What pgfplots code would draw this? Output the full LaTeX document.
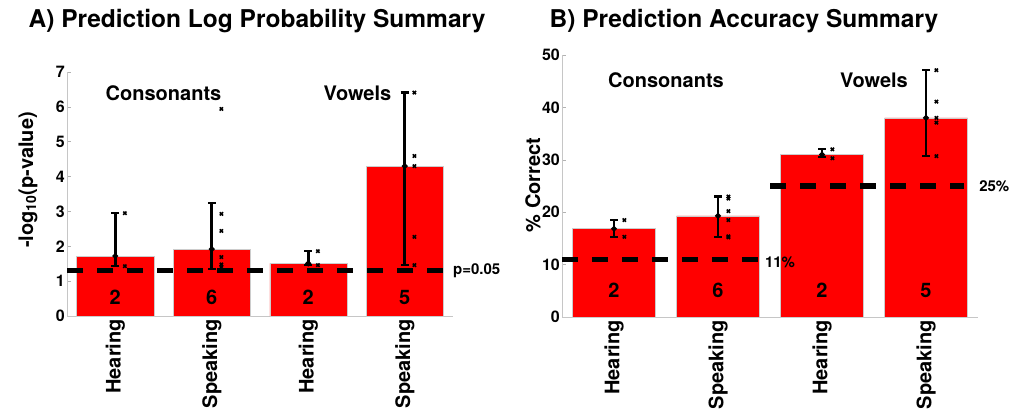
\documentclass[border=0pt]{standalone}
\usepackage{fontspec}
\setmainfont{TeX Gyre Heros}
\usepackage{pgfplots}
\pgfplotsset{compat=1.18}
\usepackage{pgfplotstable}

\pgfplotstableread{
x y ep em
1 1.72 1.23 0.29
2 1.92 1.32 0.57
3 1.51 0.35 0.05
4 4.30 2.11 2.84
}\lpmeans
\pgfplotstableread{
x y
1.1 2.95
1.1 1.43
2.1 5.94
2.1 2.93
2.1 2.44
2.1 1.69
2.1 1.48
2.1 1.40
3.1 1.86
3.1 1.46
4.1 6.41
4.1 4.59
4.1 4.30
4.1 2.27
4.1 1.46
}\lppts
\pgfplotstableread{
x y ep em
1 16.85 1.65 1.55
2 19.3 3.7 4.0
3 31.0 1.0 0.5
4 38.0 9.1 7.3
}\acmeans
\pgfplotstableread{
x y
1.1 18.5
1.1 15.3
2.1 23.0
2.1 22.6
2.1 20.2
2.1 18.5
2.1 15.4
2.1 15.2
3.1 32.0
3.1 30.3
4.1 47.1
4.1 41.1
4.1 38.0
4.1 37.1
4.1 30.7
}\acpts

\pgfplotsset{mystyle/.style={scale only axis, anchor=south west, clip=false,
  xmin=0.5, xmax=4.5, ymin=0,
  axis x line*=bottom, axis y line*=left,
  axis line style={-, gray!45, line width=0.8bp},
  tick align=inside, major tick length=4bp,
  tick style={gray!60, line width=0.6bp},
  xtick={1,2,3,4}, xticklabels={Hearing,Speaking,Hearing,Speaking},
  xticklabel style={rotate=90, anchor=east, font=\fontsize{20bp}{20bp}\selectfont\bfseries, inner sep=3bp},
  yticklabel style={font=\fontsize{16bp}{16bp}\selectfont\bfseries, inner sep=2bp},
  /pgf/number format/assume math mode=true,
}}
\tikzset{lab/.style={font=\fontsize{20bp}{20bp}\selectfont\bfseries},
  small/.style={font=\fontsize{15bp}{15bp}\selectfont\bfseries}}

\begin{document}
\begin{tikzpicture}
\useasboundingbox (0,0) rectangle (1012bp,411bp);

% Titles and y labels
\node[font=\fontsize{24.5bp}{24.5bp}\selectfont\bfseries, anchor=base] at (257bp,383bp) {A) Prediction Log Probability Summary};
\node[font=\fontsize{24.5bp}{24.5bp}\selectfont\bfseries, anchor=base] at (744bp,383bp) {B) Prediction Accuracy Summary};
\node[lab, rotate=90, anchor=base] at (33bp,231bp) {-log\textsubscript{10}(p-value)};
\node[lab, rotate=90, anchor=base] at (540bp,226bp) {\% Correct};

\begin{axis}[mystyle, at={(67bp,95bp)}, width=386bp, height=244bp, ymax=7, ytick={0,1,...,7}]
\addplot[ybar, bar width=77bp, fill=red, draw=gray!40, line width=0.5bp] table[x=x,y=y]{\lpmeans};
\addplot[black, line width=5.5bp, dash pattern=on 16bp off 14bp] coordinates {(0.5,1.3) (4.40,1.3)};
\addplot[black, line width=2.8bp, only marks, mark=*, mark size=1.2bp,
  error bars/.cd, y dir=both, y explicit,
  error bar style={line width=2.8bp},
  error mark options={rotate=90, line width=2.2bp, mark size=3.8bp}]
  table[x=x,y=y,y error plus=ep,y error minus=em]{\lpmeans};
\addplot[black, only marks, mark=x, mark size=2.3bp, mark options={line width=1.6bp}] table[x=x,y=y]{\lppts};
\node[lab] at (axis cs:1.5,6.40) {Consonants};
\node[lab] at (axis cs:3.51,6.40) {Vowels};
\node[lab] at (axis cs:1,0.545) {2};
\node[lab] at (axis cs:2,0.545) {6};
\node[lab] at (axis cs:3,0.545) {2};
\node[lab] at (axis cs:4,0.545) {5};
\node[small, anchor=west, inner sep=0pt] at (axis cs:4.5,1.3) {p=0.05};
\end{axis}

\begin{axis}[mystyle, at={(562bp,94bp)}, width=416bp, height=262bp, ymax=50, ytick={0,10,...,50}]
\addplot[ybar, bar width=83bp, fill=red, draw=gray!40, line width=0.5bp] table[x=x,y=y]{\acmeans};
\addplot[black, line width=5.5bp, dash pattern=on 16bp off 14bp] coordinates {(0.5,11) (2.39,11)};
\addplot[black, line width=5.5bp, dash pattern=on 16bp off 14bp] coordinates {(2.5,25) (4.37,25)};
\addplot[black, line width=2.8bp, only marks, mark=*, mark size=1.2bp,
  error bars/.cd, y dir=both, y explicit,
  error bar style={line width=2.8bp},
  error mark options={rotate=90, line width=2.2bp, mark size=3.8bp}]
  table[x=x,y=y,y error plus=ep,y error minus=em]{\acmeans};
\addplot[black, only marks, mark=x, mark size=2.3bp, mark options={line width=1.6bp}] table[x=x,y=y]{\acpts};
\node[lab] at (axis cs:1.5,45.2) {Consonants};
\node[lab] at (axis cs:3.5,45.2) {Vowels};
\node[lab] at (axis cs:1,5.15) {2};
\node[lab] at (axis cs:2,5.15) {6};
\node[lab] at (axis cs:3,5.15) {2};
\node[lab] at (axis cs:4,5.15) {5};
\node[small, anchor=west, inner sep=0pt] at (axis cs:2.45,10.5) {11\%};
\node[small, anchor=west, inner sep=0pt] at (axis cs:4.51,25) {25\%};
\end{axis}
\end{tikzpicture}
\end{document}
